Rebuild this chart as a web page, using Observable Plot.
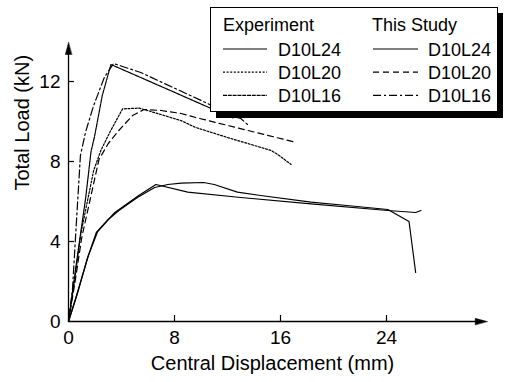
<!DOCTYPE html>
<html><head><meta charset="utf-8">
<script src="https://cdn.jsdelivr.net/npm/d3@7"></script>
<script src="https://cdn.jsdelivr.net/npm/@observablehq/plot@0.6"></script>
<style>
body{margin:0;background:#fff;}
#wrap{position:relative;width:509px;height:382px;font-family:Arial,"Liberation Sans",sans-serif;}
#legend{position:absolute;left:0;top:0;}
</style></head><body><div id="wrap"></div>
<script>
const xTicks = [0, 8, 16, 24];
const yTicks = [0, 4, 8, 12];
const xTitle = "Central Displacement (mm)";
const yTitle = "Total Load (kN)";
const groups = ["Experiment", "This Study"];
const specimens = ["D10L24", "D10L20", "D10L16"];

// Experiment D10L24
const expL24X = [0, 0.7, 1.5, 2.2, 3.0, 3.8, 5.2, 6.5, 7.5, 8.5, 10.2, 11.0, 12.75, 14.5, 18.3, 21.0, 24.1, 25.7, 26.2];
const expL24Y = [0, 1.5, 3.3, 4.5, 5.1, 5.55, 6.2, 6.7, 6.85, 6.92, 6.95, 6.85, 6.47, 6.3, 5.97, 5.8, 5.6, 5.0, 2.45];
// Experiment D10L20
const expL20X = [0, 0.45, 0.93, 1.9, 2.44, 3.19, 4.08, 5.33, 5.96, 8.47, 9.6, 12.0, 15.3, 15.9, 16.8];
const expL20Y = [0, 2.0, 4.4, 7.55, 8.55, 9.55, 10.63, 10.67, 10.55, 10.05, 9.7, 9.2, 8.55, 8.3, 7.85];
// Experiment D10L16
const expL16X = [0, 0.55, 1.3, 1.7, 1.95, 2.55, 3.2, 5.45, 10.6, 12.4];
const expL16Y = [0, 2.7, 6.2, 8.5, 9.2, 11.3, 12.85, 12.2, 10.7, 10.18];
// This Study D10L24
const stdL24X = [0, 0.65, 1.4, 2.1, 3.5, 5.3, 6.6, 9.0, 13.0, 18.3, 24.1, 26.2, 26.6];
const stdL24Y = [0, 1.35, 3.1, 4.45, 5.45, 6.3, 6.85, 6.47, 6.2, 5.88, 5.55, 5.45, 5.55];
// This Study D10L20
const stdL20X = [0, 0.5, 1.0, 1.6, 2.3, 3.0, 3.8, 4.83, 5.7, 7.0, 8.5, 9.6, 17.2];
const stdL20Y = [0, 2.0, 4.2, 6.0, 8.1, 8.9, 9.55, 10.3, 10.6, 10.55, 10.4, 10.2, 8.95];
// This Study D10L16
const stdL16X = [0, 0.3, 0.6, 0.9, 1.3, 1.9, 2.7, 3.4, 5.45, 10.5, 12.1, 13.0, 13.6];
const stdL16Y = [0, 1.6, 5.0, 8.3, 9.5, 10.8, 12.2, 12.9, 12.45, 10.9, 10.3, 10.15, 9.8];

const dashes = {
  "Experiment D10L24": null,
  "Experiment D10L20": "2,1.6",
  "Experiment D10L16": "4,0.8",
  "This Study D10L24": null,
  "This Study D10L20": "6,4",
  "This Study D10L16": "8,3,2,3"
};

const series = [
  ["Experiment D10L24", expL24X, expL24Y],
  ["Experiment D10L20", expL20X, expL20Y],
  ["Experiment D10L16", expL16X, expL16Y],
  ["This Study D10L24", stdL24X, stdL24Y],
  ["This Study D10L20", stdL20X, stdL20Y],
  ["This Study D10L16", stdL16X, stdL16Y]
].map(([name, xs, ys]) => ({name, data: xs.map((x, i) => ({x, y: ys[i]}))}));

const tri = {draw(ctx, l) { ctx.moveTo(0, -l); ctx.lineTo(-3.2, 0); ctx.lineTo(3.2, 0); ctx.closePath(); }};

const chart = Plot.plot({
  width: 509, height: 382,
  marginLeft: 68, marginRight: 17, marginTop: 41, marginBottom: 61,
  style: {fontFamily: "Arial, 'Liberation Sans', sans-serif", background: "white", color: "black"},
  x: {domain: [0, 32]},
  y: {domain: [0, 14]},
  marks: [
    Plot.axisX({ticks: xTicks, tickSize: 0, tickPadding: 9, fontSize: 19, label: null}),
    Plot.axisY({ticks: yTicks, tickSize: 0, tickPadding: 8, fontSize: 19, label: null}),
    Plot.ruleX(xTicks.slice(1), {x: d => d, y1: 0, y2: 0.3, stroke: "black", strokeWidth: 1.2}),
    Plot.ruleY(yTicks.slice(1), {y: d => d, x1: 0, x2: 0.45, stroke: "black", strokeWidth: 1.2}),
    Plot.ruleY([0], {x1: 0, x2: 31.2, stroke: "black", strokeWidth: 1.3}),
    Plot.ruleX([0], {y1: 0, y2: 13.6, stroke: "black", strokeWidth: 1.3}),
    Plot.vector([{x: 31.6, y: 0}], {x: "x", y: "y", rotate: 90, length: 12, anchor: "end", shape: tri, fill: "black", stroke: "black", strokeWidth: 0.5}),
    Plot.vector([{x: 0, y: 13.95}], {x: "x", y: "y", rotate: 0, length: 12, anchor: "end", shape: tri, fill: "black", stroke: "black", strokeWidth: 0.5}),
    ...series.map(s => Plot.line(s.data, {x: "x", y: "y", stroke: "black", strokeWidth: 1.2, strokeDasharray: dashes[s.name]})),
    Plot.text([xTitle], {frameAnchor: "bottom", dx: -8, dy: 48, fontSize: 20, text: d => d}),
    Plot.text([yTitle], {frameAnchor: "left", dx: -46, dy: 9, rotate: -90, fontSize: 20, text: d => d})
  ]
});
const wrap = document.getElementById("wrap");
wrap.appendChild(chart);

// Legend overlay
const svg = d3.select(wrap).append("svg").attr("id", "legend").attr("width", 509).attr("height", 382);
svg.append("rect").attr("x", 216).attr("y", 13).attr("width", 287).attr("height", 105).attr("fill", "black");
svg.append("rect").attr("x", 210.5).attr("y", 7.5).attr("width", 287).attr("height", 104).attr("fill", "white").attr("stroke", "black").attr("stroke-width", 1);
const colX = [223, 372];
const sampleX = [[223, 267], [373, 418]];
const labelX = [278, 428];
groups.forEach((g, gi) => {
  svg.append("text").attr("x", colX[gi]).attr("y", 31).attr("font-size", 18).text(g);
  specimens.forEach((sp, si) => {
    const cy = 49 + si * 23.2;
    const name = g + " " + sp;
    svg.append("line").attr("x1", sampleX[gi][0]).attr("x2", sampleX[gi][1]).attr("y1", cy).attr("y2", cy)
      .attr("stroke", "black").attr("stroke-width", 1.2).attr("stroke-dasharray", dashes[name]);
    svg.append("text").attr("x", labelX[gi]).attr("y", cy + 6.5).attr("font-size", 18).text(sp);
  });
});
</script></body></html>
